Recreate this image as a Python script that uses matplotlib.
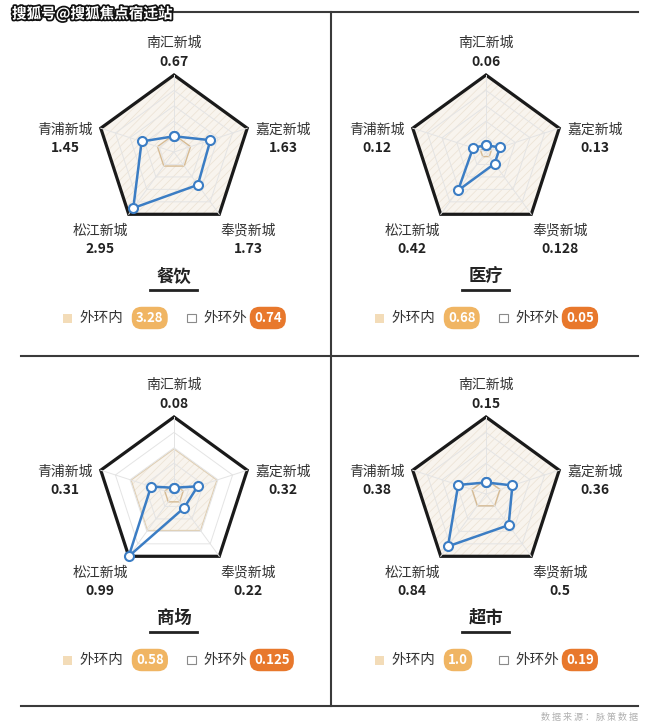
import numpy as np
import matplotlib
matplotlib.use('Agg')
import matplotlib.pyplot as plt
import matplotlib.patheffects as pe
from matplotlib.patches import Polygon, Rectangle

plt.rcParams['font.family'] = ['Noto Sans CJK SC', 'DejaVu Sans']
plt.rcParams['hatch.linewidth'] = 0.6

# data
cities = ['南汇新城', '嘉定新城', '奉贤新城', '松江新城', '青浦新城']
titles = ['餐饮', '医疗', '商场', '超市']
catering = [0.67, 1.63, 1.73, 2.95, 1.45]
medical = [0.06, 0.13, 0.128, 0.42, 0.12]
mall = [0.08, 0.32, 0.22, 0.99, 0.31]
supermarket = [0.15, 0.36, 0.5, 0.84, 0.38]
inside_ring = [3.28, 0.68, 0.58, 1.0]    # 外环内
outside_ring = [0.74, 0.05, 0.125, 0.19]  # 外环外
series = [catering, medical, mall, supermarket]

W, H = 660, 726
fig = plt.figure(figsize=(W / 100, H / 100), dpi=100)
bg = fig.add_axes([0, 0, 1, 1])
bg.set_xlim(0, W)
bg.set_ylim(H, 0)
bg.axis('off')

# frame lines
for y in (12, 356, 706):
    bg.plot([21, 638], [y, y], color='#3a3a3a', lw=1.5)
bg.plot([331, 331], [12, 706], color='#3a3a3a', lw=1.5)

centers = [(174, 152), (486, 152), (174, 494), (486, 494)]
R = 77
ang = np.deg2rad(np.arange(5) * 72)
dirs = np.column_stack([np.sin(ang), np.cos(ang)])
# label offsets per vertex: dx, name dy, value dy
offs = [(0, -109, -90), (109, -22, -4), (74, 79, 97), (-74, 79, 97), (-109, -22, -4)]

blue = '#3b7dc4'
tan_edge = '#d6bb94'
pill = 'round,pad=0.32,rounding_size=0.75'

for i, (cx, cy) in enumerate(centers):
    vals = np.array(series[i])
    scale = max(inside_ring[i], vals.max())
    half = 92
    ax = fig.add_axes([(cx - half) / W, (H - cy - half) / H, 2 * half / W, 2 * half / H])
    lim = half / R
    ax.set_xlim(-lim, lim)
    ax.set_ylim(-lim, lim)
    ax.axis('off')

    rin = inside_ring[i] / scale
    ax.add_patch(Polygon(dirs * rin, closed=True, fc='#f8f4ee', ec='none'))
    ax.add_patch(Polygon(dirs * rin, closed=True, fc='none', ec='#ede4d7', lw=0, hatch='////'))
    if rin < 0.99:
        ax.add_patch(Polygon(dirs * rin, closed=True, fill=False, ec='#e0cfb3', lw=0.9))

    for g in (0.2, 0.4, 0.6, 0.8):
        ax.add_patch(Polygon(dirs * g, closed=True, fill=False, ec='#e4e4e4', lw=0.7))
    for d in dirs:
        ax.plot([0, d[0]], [0, d[1]], color='#e4e4e4', lw=0.7)

    ax.add_patch(Polygon(dirs, closed=True, fill=False, ec='#1a1a1a', lw=2.3, joinstyle='miter'))
    ax.add_patch(Polygon(dirs * outside_ring[i] / scale, closed=True, fill=False, ec=tan_edge, lw=1.0))

    pts = dirs * (vals / scale)[:, None]
    closed = np.vstack([pts, pts[:1]])
    ax.plot(closed[:, 0], closed[:, 1], color=blue, lw=1.8, marker='o', ms=6.5,
            mfc='white', mec=blue, mew=1.5, clip_on=False, zorder=5)

    # vertex labels
    for k, (dx, ndy, vdy) in enumerate(offs):
        bg.text(cx + dx, cy + ndy, cities[k], fontsize=10, color='#333333', ha='center', va='center')
        bg.text(cx + dx, cy + vdy, str(series[i][k]), fontsize=10, color='#222222',
                weight='bold', ha='center', va='center')

    # title with underline
    bg.text(cx, cy + 124, titles[i], fontsize=12.5, weight='bold', color='#222222', ha='center', va='center')
    bg.plot([cx - 24, cx + 23], [cy + 138, cy + 138], color='#222222', lw=2)

    # legend
    ly = cy + 166
    bg.add_patch(Rectangle((cx - 111, ly - 4.5), 9, 9, fc='#f3dcb8', ec='none'))
    bg.text(cx - 95, ly, '外环内', fontsize=10.5, color='#333333', ha='left', va='center')
    bg.text(cx - 38, ly, str(inside_ring[i]), fontsize=9.5, color='white', weight='bold', ha='left', va='center',
            bbox=dict(boxstyle=pill, fc='#f0b563', ec='none'))
    bg.add_patch(Rectangle((cx + 13, ly - 4.5), 8.5, 8.5, fc='white', ec='#8a8a8a', lw=0.8))
    bg.text(cx + 29, ly, '外环外', fontsize=10.5, color='#333333', ha='left', va='center')
    bg.text(cx + 80, ly, str(outside_ring[i]), fontsize=9.5, color='white', weight='bold', ha='left', va='center',
            bbox=dict(boxstyle=pill, fc='#e8782c', ec='none'))

bg.text(12, 14, '搜狐号@搜狐焦点宿迁站', fontsize=10.5, weight='bold', color='white', ha='left', va='center',
        path_effects=[pe.withStroke(linewidth=2.5, foreground='#111111')])
bg.text(638, 717, '数 据 来 源 ： 脉 策 数 据', fontsize=6.5, color='#b0b0b0', ha='right', va='center')

fig.savefig('out.png', dpi=100)
